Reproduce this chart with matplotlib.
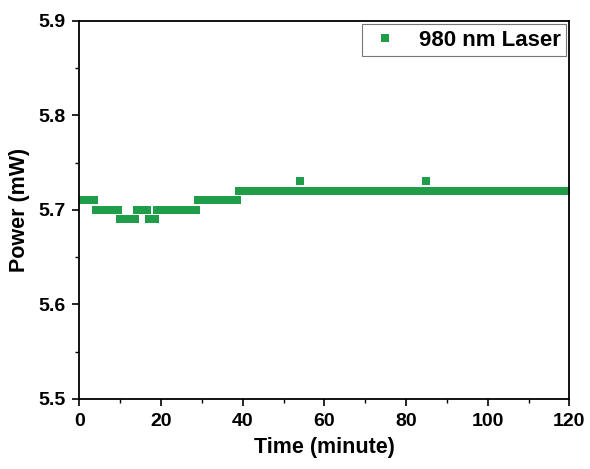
import matplotlib
matplotlib.use("Agg")
import matplotlib.pyplot as plt
from matplotlib.ticker import MultipleLocator
import numpy as np

# Power readings, 0.5-minute sampling, stored as runs of equal value
levels = [5.71, 5.70, 5.69, 5.70, 5.69, 5.70, 5.71, 5.72, 5.73, 5.72, 5.73, 5.72]
run_lengths = [8, 12, 8, 6, 4, 20, 20, 30, 1, 61, 1, 70]
step_min = 0.5

time_min = np.arange(sum(run_lengths)) * step_min
power_mw = np.repeat(levels, run_lengths)

plt.rcParams['font.family'] = ['Liberation Sans', 'DejaVu Sans']
plt.rcParams['font.weight'] = 'bold'

fig = plt.figure(figsize=(5.9, 4.69), dpi=100)
ax = fig.add_axes([0.1347, 0.1493, 0.8303, 0.8066])

ax.plot(time_min, power_mw, linestyle='none', marker='s', markersize=5.6,
        color='#1f9d48', markeredgewidth=0, label='980 nm Laser')

ax.set_xlim(0, 120)
ax.set_ylim(5.5, 5.9)
ax.xaxis.set_major_locator(MultipleLocator(20))
ax.xaxis.set_minor_locator(MultipleLocator(10))
ax.yaxis.set_major_locator(MultipleLocator(0.1))
ax.yaxis.set_minor_locator(MultipleLocator(0.05))
ax.tick_params(which='major', direction='out', length=5, width=1.2,
               labelsize=14, pad=5)
ax.tick_params(which='minor', direction='out', length=3, width=1)
for s in ax.spines.values():
    s.set_linewidth(1.3)

ax.set_xlabel('Time (minute)', fontsize=15.5, fontweight='bold', labelpad=5)
ax.set_ylabel('Power (mW)', fontsize=15.5, fontweight='bold', labelpad=6)

leg = ax.legend(loc='upper right', fontsize=16, frameon=True, fancybox=False,
                edgecolor='#555555', handlelength=1.6, handletextpad=0.7,
                borderpad=0.25, borderaxespad=0.15, markerscale=1.0)
leg.get_frame().set_linewidth(0.8)

fig.savefig('out.png', dpi=100)
